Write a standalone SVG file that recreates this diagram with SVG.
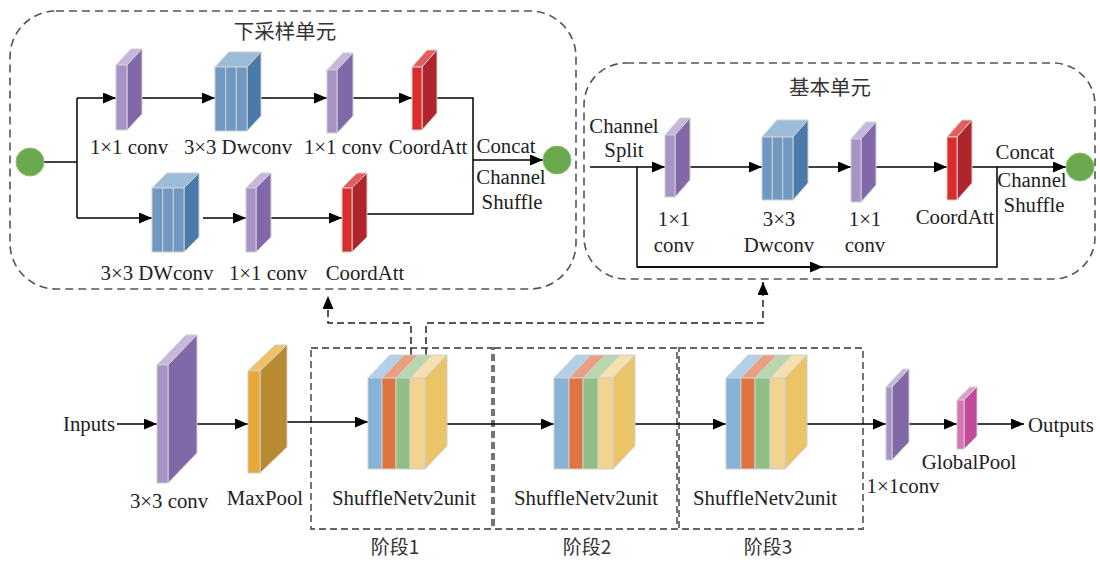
<svg xmlns="http://www.w3.org/2000/svg" width="1100" height="563" viewBox="0 0 1100 563">
<defs>
<marker id="ah" markerUnits="userSpaceOnUse" markerWidth="13" markerHeight="11" refX="13" refY="5.5" orient="auto"><path d="M0,0 L13,5.5 L0,11 z" fill="#000"/></marker>
<style>
text{font-family:"Liberation Serif","Noto Sans CJK SC",serif;font-size:20.8px;fill:#222;}
.cn{font-family:"Noto Sans CJK SC",sans-serif;font-size:19px;fill:#333;}
.ttl{font-size:20.5px;}
.m{text-anchor:middle;}
.panel{fill:none;stroke:#555;stroke-width:1.6;stroke-dasharray:8 5;}
.stage{fill:none;stroke:#666;stroke-width:1.8;stroke-dasharray:7 4;}
.ln{fill:none;stroke:#000;stroke-width:1.5;}
.arr{fill:none;stroke:#000;stroke-width:1.5;marker-end:url(#ah);}
.dsh{fill:none;stroke:#222;stroke-width:1.5;stroke-dasharray:7 4;}
.b *{stroke:#cfcfcf;stroke-width:1;}
.pf{fill:#a893c7;} .ps{fill:#8168a9;} .pt{fill:#c7b7dc;}
.bf{fill:#6f98c3;} .bs{fill:#4b79aa;} .bt{fill:#9dbcd9;}
.rf{fill:#dc2b2b;} .rs{fill:#b0252b;} .rt{fill:#e65c5c;}
.of{fill:#e8a938;} .os{fill:#b88a32;} .ot{fill:#eec266;}
.kf{fill:#d873b5;} .ks{fill:#c24a9b;} .kt{fill:#e39cca;}
.s1{fill:#86b3d8;} .s2{fill:#df7440;} .s3{fill:#90bf85;} .s4{fill:#f2d38f;} .ss{fill:#ecc468;}
.t1{fill:#b3d0ea;} .t2{fill:#eaa080;} .t3{fill:#b9d7ae;} .t4{fill:#f5e1b0;}
.gc{fill:#6aa94d;stroke:#8cc070;stroke-width:1;}
</style>
</defs>

<!-- Panels -->
<g id="panel-downsample">
<rect class="panel" x="10" y="11" width="566" height="278" rx="46"/>
<text class="cn ttl m" x="285" y="39">下采样单元</text>
</g>
<g id="panel-basic">
<rect class="panel" x="584" y="63" width="511" height="216" rx="42"/>
<text class="cn ttl m" x="830" y="95">基本单元</text>
</g>

<!-- Stage boxes -->
<g id="stage1"><rect class="stage" x="311" y="348" width="181" height="181"/><text class="cn m" x="395" y="554">阶段1</text></g>
<g id="stage2"><rect class="stage" x="494" y="348" width="183" height="181"/><text class="cn m" x="587" y="554">阶段2</text></g>
<g id="stage3"><rect class="stage" x="679" y="348" width="184" height="181"/><text class="cn m" x="768" y="554">阶段3</text></g>

<!-- Connectors -->
<g id="connectors">
<!-- down-sampling unit -->
<polyline class="ln" points="44,162 77,162"/>
<polyline class="ln" points="77,98 77,218"/>
<line class="arr" x1="77" y1="98" x2="116" y2="98"/>
<line class="arr" x1="142" y1="98" x2="215" y2="98"/>
<line class="arr" x1="261" y1="98" x2="327" y2="98"/>
<line class="arr" x1="353" y1="98" x2="412" y2="98"/>
<polyline class="ln" points="437,98 473,98 473,214 367,214"/>
<line class="arr" x1="77" y1="218" x2="152" y2="218"/>
<line class="arr" x1="203" y1="218" x2="246" y2="218"/>
<line class="arr" x1="271" y1="218" x2="342" y2="218"/>
<line class="arr" x1="473" y1="160" x2="543" y2="160"/>
<!-- basic unit -->
<line class="arr" x1="590" y1="167" x2="665" y2="167"/>
<line class="arr" x1="690" y1="167" x2="762" y2="167"/>
<line class="arr" x1="808" y1="167" x2="851" y2="167"/>
<line class="arr" x1="876" y1="167" x2="947" y2="167"/>
<line class="arr" x1="972" y1="167" x2="1066" y2="167"/>
<polyline class="ln" points="637,167 637,267 997,267 997,167"/>
<line class="arr" x1="637" y1="267" x2="823" y2="267"/>
<!-- dashed links to panels -->
<polyline class="dsh" points="411,355 411,323 328,323 328,296" marker-end="url(#ah)"/>
<polyline class="dsh" points="426,355 426,323 763,323 763,282" marker-end="url(#ah)"/>
<!-- backbone -->
<line class="arr" x1="117" y1="424" x2="157" y2="424"/>
<line class="arr" x1="197" y1="424" x2="248" y2="424"/>
<line class="arr" x1="287" y1="422" x2="368" y2="422"/>
<line class="arr" x1="447" y1="424" x2="554" y2="424"/>
<line class="arr" x1="635" y1="424" x2="726" y2="424"/>
<line class="arr" x1="807" y1="424" x2="886" y2="424"/>
<line class="arr" x1="909" y1="424" x2="957" y2="424"/>
<line class="arr" x1="977" y1="424" x2="1024" y2="424"/>
</g>

<!-- Down-sampling unit nodes -->
<g id="ds-in"><circle class="gc" cx="30" cy="162" r="14"/></g>
<g id="ds-out"><circle class="gc" cx="557" cy="160" r="14"/></g>
<g id="ds-conv1" class="b">
<polygon class="pt" points="116,65 131,49 142,49 127,65"/><polygon class="ps" points="127,65 142,49 142,114 127,130"/><rect class="pf" x="116" y="65" width="11" height="65"/>
</g>
<text class="m" x="129" y="154">1×1 conv</text>
<g id="ds-dw1" class="b">
<polygon class="bt" points="215,67 229,52 261,52 247,67"/><polygon class="bs" points="247,67 261,52 261,116 247,131"/>
<rect class="bf" x="215" y="67" width="10.7" height="64"/><rect class="bf" x="225.7" y="67" width="10.6" height="64"/><rect class="bf" x="236.3" y="67" width="10.7" height="64"/>
</g>
<text class="m" x="238" y="154">3×3 Dwconv</text>
<g id="ds-conv2" class="b">
<polygon class="pt" points="327,70 343,53 353,53 337,70"/><polygon class="ps" points="337,70 353,53 353,116 337,133"/><rect class="pf" x="327" y="70" width="10" height="63"/>
</g>
<text class="m" x="343" y="154">1×1 conv</text>
<g id="ds-ca1" class="b">
<polygon class="rt" points="412,67 427,50 437,50 422,67"/><polygon class="rs" points="422,67 437,50 437,113 422,130"/><rect class="rf" x="412" y="67" width="10" height="63"/>
</g>
<text class="m" x="428" y="154">CoordAtt</text>
<g id="ds-dw2" class="b">
<polygon class="bt" points="152,188 167,173 199,173 184,188"/><polygon class="bs" points="184,188 199,173 199,237 184,252"/>
<rect class="bf" x="152" y="188" width="10.7" height="64"/><rect class="bf" x="162.7" y="188" width="10.6" height="64"/><rect class="bf" x="173.3" y="188" width="10.7" height="64"/>
</g>
<text class="m" x="157" y="280">3×3 DWconv</text>
<g id="ds-conv3" class="b">
<polygon class="pt" points="246,188 261,173 271,173 256,188"/><polygon class="ps" points="256,188 271,173 271,237 256,252"/><rect class="pf" x="246" y="188" width="10" height="64"/>
</g>
<text class="m" x="268" y="280">1×1 conv</text>
<g id="ds-ca2" class="b">
<polygon class="rt" points="342,188 357,173 367,173 352,188"/><polygon class="rs" points="352,188 367,173 367,237 352,252"/><rect class="rf" x="342" y="188" width="10" height="64"/>
</g>
<text class="m" x="365" y="280">CoordAtt</text>
<g id="ds-concat">
<text class="m" x="506" y="153">Concat</text>
<text class="m" x="511" y="184">Channel</text>
<text class="m" x="512" y="209">Shuffle</text>
</g>

<!-- Basic unit nodes -->
<g id="bu-split"><text class="m" x="624" y="133">Channel</text><text class="m" x="624" y="157">Split</text></g>
<g id="bu-conv1" class="b">
<polygon class="pt" points="665,135 680,118 690,118 675,135"/><polygon class="ps" points="675,135 690,118 690,180 675,197"/><rect class="pf" x="665" y="135" width="10" height="62"/>
</g>
<text class="m" x="674" y="226">1×1</text><text class="m" x="674" y="252">conv</text>
<g id="bu-dw" class="b">
<polygon class="bt" points="762,137 777,120 808,120 793,137"/><polygon class="bs" points="793,137 808,120 808,183 793,200"/>
<rect class="bf" x="762" y="137" width="10.3" height="63"/><rect class="bf" x="772.3" y="137" width="10.4" height="63"/><rect class="bf" x="782.7" y="137" width="10.3" height="63"/>
</g>
<text class="m" x="779" y="226">3×3</text><text class="m" x="779" y="252">Dwconv</text>
<g id="bu-conv2" class="b">
<polygon class="pt" points="851,139 866,122 876,122 861,139"/><polygon class="ps" points="861,139 876,122 876,185 861,202"/><rect class="pf" x="851" y="139" width="10" height="63"/>
</g>
<text class="m" x="865" y="226">1×1</text><text class="m" x="865" y="252">conv</text>
<g id="bu-ca" class="b">
<polygon class="rt" points="947,137 962,120 972,120 957,137"/><polygon class="rs" points="957,137 972,120 972,183 957,200"/><rect class="rf" x="947" y="137" width="10" height="63"/>
</g>
<text class="m" x="955" y="224">CoordAtt</text>
<g id="bu-concat">
<text class="m" x="1025" y="159">Concat</text>
<text class="m" x="1032" y="187">Channel</text>
<text class="m" x="1034" y="212">Shuffle</text>
</g>
<g id="bu-out"><circle class="gc" cx="1080" cy="167" r="14"/></g>

<!-- Backbone nodes -->
<g id="inputs"><text x="115" y="431" text-anchor="end">Inputs</text></g>
<g id="conv3x3" class="b">
<polygon class="pt" points="157,365 186,335 197,335 168,365"/><polygon class="ps" points="168,365 197,335 197,453 168,483"/><rect class="pf" x="157" y="365" width="11" height="118"/>
</g>
<text class="m" x="169" y="508">3×3 conv</text>
<g id="maxpool" class="b">
<polygon class="ot" points="248,371 275,345 287,345 260,371"/><polygon class="os" points="260,371 287,345 287,447 260,473"/><rect class="of" x="248" y="371" width="12" height="102"/>
</g>
<text class="m" x="265" y="505">MaxPool</text>
<g id="shuffle1" class="b">
<polygon class="t1" points="368,378 390,355 404,355 382,378"/><polygon class="t2" points="382,378 404,355 418,355 396,378"/><polygon class="t3" points="396,378 418,355 432,355 410,378"/><polygon class="t4" points="410,378 432,355 447,355 425,378"/>
<polygon class="ss" points="425,378 447,355 447,446 425,469"/>
<rect class="s1" x="368" y="378" width="14" height="91"/><rect class="s2" x="382" y="378" width="14" height="91"/><rect class="s3" x="396" y="378" width="14" height="91"/><rect class="s4" x="410" y="378" width="15" height="91"/>
</g>
<text class="m" x="404" y="505">ShuffleNetv2unit</text>
<g id="shuffle2" class="b">
<polygon class="t1" points="554,378 576,355 591,355 569,378"/><polygon class="t2" points="569,378 591,355 605,355 583,378"/><polygon class="t3" points="583,378 605,355 620,355 598,378"/><polygon class="t4" points="598,378 620,355 635,355 613,378"/>
<polygon class="ss" points="613,378 635,355 635,446 613,469"/>
<rect class="s1" x="554" y="378" width="15" height="91"/><rect class="s2" x="569" y="378" width="14" height="91"/><rect class="s3" x="583" y="378" width="15" height="91"/><rect class="s4" x="598" y="378" width="15" height="91"/>
</g>
<text class="m" x="586" y="505">ShuffleNetv2unit</text>
<g id="shuffle3" class="b">
<polygon class="t1" points="726,378 748,355 763,355 741,378"/><polygon class="t2" points="741,378 763,355 777,355 755,378"/><polygon class="t3" points="755,378 777,355 792,355 770,378"/><polygon class="t4" points="770,378 792,355 807,355 785,378"/>
<polygon class="ss" points="785,378 807,355 807,446 785,469"/>
<rect class="s1" x="726" y="378" width="15" height="91"/><rect class="s2" x="741" y="378" width="14" height="91"/><rect class="s3" x="755" y="378" width="15" height="91"/><rect class="s4" x="770" y="378" width="15" height="91"/>
</g>
<text class="m" x="765" y="505">ShuffleNetv2unit</text>
<g id="conv1x1" class="b">
<polygon class="pt" points="886,387 903,369 909,369 892,387"/><polygon class="ps" points="892,387 909,369 909,442 892,460"/><rect class="pf" x="886" y="387" width="6" height="73"/>
</g>
<text class="m" x="903" y="493">1×1conv</text>
<g id="globalpool" class="b">
<polygon class="kt" points="957,400 970,387 977,387 964,400"/><polygon class="ks" points="964,400 977,387 977,436 964,449"/><rect class="kf" x="957" y="400" width="7" height="49"/>
</g>
<text class="m" x="969" y="469">GlobalPool</text>
<g id="outputs"><text x="1028" y="432">Outputs</text></g>
</svg>
